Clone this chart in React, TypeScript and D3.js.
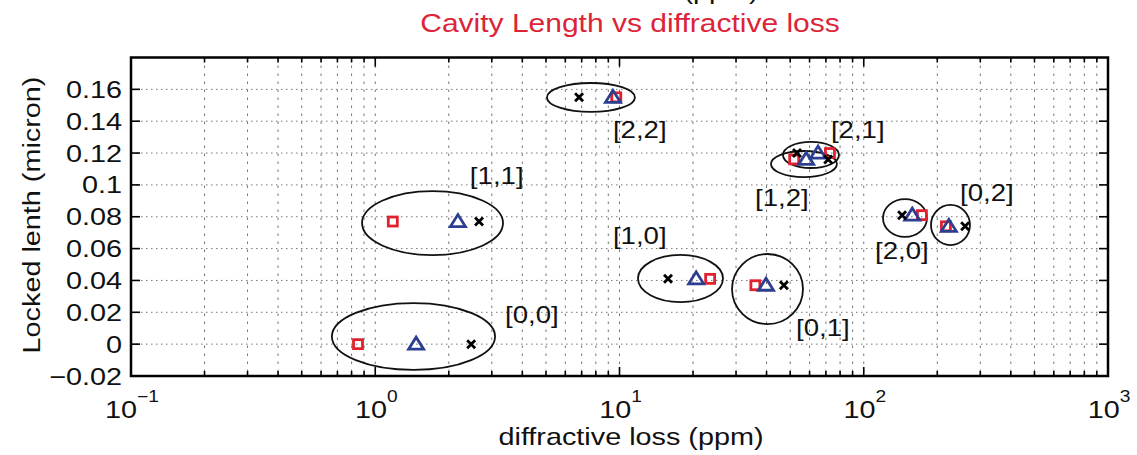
import React from "react";
import * as d3 from "d3";

const width = 1137;
const height = 455;
const left = 131;
const right = 1108;
const top = 57.5;
const bottom = 376;
const SX = 1.2; // the source figure is stretched sideways
const font = "'Liberation Sans', Arial, Helvetica, sans-serif";
const red = "#e0222f";
const blue = "#2c3e90";

// modes and their locked length (micron)
const modes = ["[0,0]", "[1,0]", "[0,1]", "[1,1]", "[2,0]", "[0,2]", "[2,1]", "[1,2]", "[2,2]"];
const lockedLength = [0, 0.041, 0.037, 0.077, 0.081, 0.074, 0.12, 0.116, 0.155];
// diffractive loss (ppm) of the three series
const lossSquare = [0.85, 23.5, 36, 1.18, 173, 217, 72.7, 51.9, 9.7];
const lossTriangle = [1.47, 20.6, 39.8, 2.18, 158, 223, 65, 58.1, 9.4];
const lossCross = [2.47, 15.8, 47.1, 2.66, 143.5, 260, 53.3, 71.5, 6.83];

// rings drawn round each mode: centre, half width in decades, half height in micron
const ringLoss = [1.434, 17.77, 40.36, 1.716, 147.5, 226.5, 60.8, 56.9, 7.64];
const ringLength = [0.0048, 0.0412, 0.0346, 0.076, 0.0792, 0.0748, 0.1188, 0.1131, 0.1549];
const ringDecades = [0.334, 0.174, 0.1453, 0.2886, 0.09, 0.0798, 0.1146, 0.135, 0.18];
const ringHalf = [0.021, 0.0148, 0.022, 0.0201, 0.0119, 0.0126, 0.0082, 0.0082, 0.0091];

// where the mode names sit
const labelLoss = [3.4, 9.4, 52.8, 2.44, 111.2, 247.7, 73.4, 35.9, 9.4];
const labelLength = [0.0133, 0.0629, 0.0051, 0.1006, 0.0535, 0.0899, 0.1294, 0.0867, 0.1294];

const xExponents = [-1, 0, 1, 2, 3];
const yTicks = [-0.02, 0, 0.02, 0.04, 0.06, 0.08, 0.1, 0.12, 0.14, 0.16];
const yTickLabels = ["\u22120.02", "0", "0.02", "0.04", "0.06", "0.08", "0.1", "0.12", "0.14", "0.16"];

const x = d3.scaleLog().domain([0.1, 1000]).range([left, right]);
const y = d3.scaleLinear().domain([-0.02, 0.18]).range([bottom, top]);

const xMajor = xExponents.map((e) => Math.pow(10, e));
const xMinor = d3.range(-1, 3).flatMap((e) => d3.range(2, 10).map((m) => m * Math.pow(10, e)));

const Txt = ({ x, y, anchor = "start", size = 24, rot = 0, fill = "#111", children }: any) => (
  <text
    transform={`translate(${x},${y})${rot ? ` rotate(${rot})` : ""} scale(${SX},1)`}
    textAnchor={anchor}
    fontSize={size}
    fontFamily={font}
    fill={fill}
  >
    {children}
  </text>
);

const tri = (cx: number, cy: number) => {
  const w = 7.5;
  const h = 12;
  return `M${cx - w},${cy + h / 2 - 1} L${cx + w},${cy + h / 2 - 1} L${cx},${cy - h / 2 - 1} Z`;
};

export default function App() {
  return (
    <svg
      width={width}
      height={height}
      style={{ position: "absolute", left: 0, top: 0, background: "#fff" }}
    >
      <rect width={width} height={height} fill="#fff" />
      {/* grid */}
      <g stroke="#666" strokeWidth={0.9}>
        {[...xMajor.slice(1, -1), ...xMinor].map((v, i) => (
          <line key={"gx" + i} x1={x(v)} x2={x(v)} y1={top} y2={bottom} strokeDasharray="2.5,5.5" />
        ))}
        {yTicks.slice(1).map((v, i) => (
          <line key={"gy" + i} x1={left} x2={right} y1={y(v)} y2={y(v)} strokeDasharray="1.5,3.5" />
        ))}
      </g>

      {/* ticks */}
      <g stroke="#000" strokeWidth={1.6}>
        {xMajor.map((v, i) => (
          <g key={"xM" + i}>
            <line x1={x(v)} x2={x(v)} y1={bottom} y2={bottom - 9} />
            <line x1={x(v)} x2={x(v)} y1={top} y2={top + 9} />
          </g>
        ))}
        {xMinor.map((v, i) => (
          <g key={"xm" + i}>
            <line x1={x(v)} x2={x(v)} y1={bottom} y2={bottom - 5} />
            <line x1={x(v)} x2={x(v)} y1={top} y2={top + 5} />
          </g>
        ))}
        {yTicks.map((v, i) => (
          <g key={"yM" + i}>
            <line x1={left} x2={left + 9} y1={y(v)} y2={y(v)} />
            <line x1={right} x2={right - 9} y1={y(v)} y2={y(v)} />
          </g>
        ))}
      </g>

      {/* rings */}
      <g fill="none" stroke="#111" strokeWidth={1.8}>
        {modes.map((m, i) => {
          const cx = x(ringLoss[i]);
          const rx = x(ringLoss[i] * Math.pow(10, ringDecades[i])) - cx;
          const cy = y(ringLength[i]);
          const ry = cy - y(ringLength[i] + ringHalf[i]);
          return <ellipse key={"r" + m} cx={cx} cy={cy} rx={rx} ry={ry} />;
        })}
      </g>

      {/* markers */}
      <g fill="none" strokeWidth={2.8}>
        {modes.map((m, i) => (
          <rect
            key={"s" + m}
            x={x(lossSquare[i]) - 4.5}
            y={y(lockedLength[i]) - 4.5}
            width={9}
            height={9}
            stroke={red}
          />
        ))}
        {modes.map((m, i) => (
          <path key={"t" + m} d={tri(x(lossTriangle[i]), y(lockedLength[i]))} stroke={blue} strokeLinejoin="miter" />
        ))}
        {modes.map((m, i) => {
          const cx = x(lossCross[i]);
          const cy = y(lockedLength[i]);
          const a = 4;
          return (
            <path
              key={"c" + m}
              d={`M${cx - a},${cy - a} L${cx + a},${cy + a} M${cx - a},${cy + a} L${cx + a},${cy - a}`}
              stroke="#000"
              strokeWidth={2.8}
            />
          );
        })}
      </g>

      {/* mode names */}
      {modes.map((m, i) => (
        <Txt key={"l" + m} x={x(labelLoss[i])} y={y(labelLength[i])} size={23}>
          {m}
        </Txt>
      ))}

      {/* box */}
      <rect x={left} y={top} width={right - left} height={bottom - top} fill="none" stroke="#000" strokeWidth={2.5} />

      {/* tick labels */}
      {yTicks.map((v, i) => (
        <Txt key={"yl" + i} x={122} y={y(v) + 8.5} anchor="end">
          {yTickLabels[i]}
        </Txt>
      ))}
      {xExponents.map((e, i) => (
        <Txt key={"xl" + i} x={x(xMajor[i]) + 1} y={418} anchor="middle">
          10
          <tspan dy={-16} fontSize={16}>
            {e < 0 ? "\u2212" + Math.abs(e) : String(e)}
          </tspan>
        </Txt>
      ))}

      {/* axis titles */}
      <Txt x={631} y={445} anchor="middle">
        diffractive loss (ppm)
      </Txt>
      <Txt x={40} y={215} anchor="middle" rot={-90}>
        Locked lenth (micron)
      </Txt>
      <Txt x={721} y={-1} anchor="middle">
        (ppm)
      </Txt>
      <Txt x={630} y={32} anchor="middle" size={25} fill="#dc2438">
        Cavity Length vs diffractive loss
      </Txt>
    </svg>
  );
}
